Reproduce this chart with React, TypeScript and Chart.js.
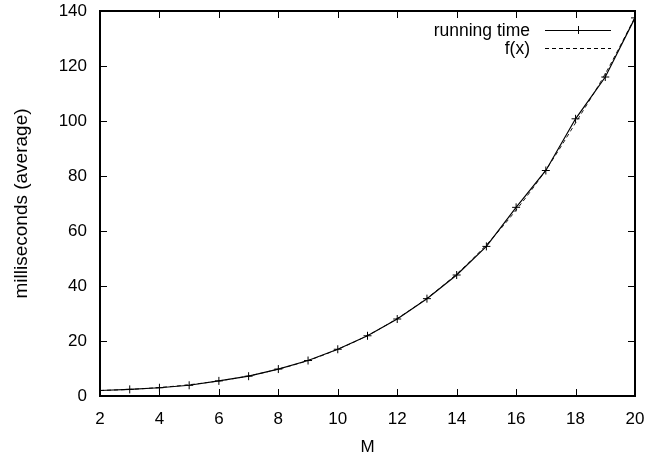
import React, { useEffect, useRef } from "react";
import { Chart, registerables } from "chart.js";

Chart.register(...registerables);

const M_VALUES = [2, 3, 4, 5, 6, 7, 8, 9, 10, 11, 12, 13, 14, 15, 16, 17, 18, 19, 20];
const RUNNING_TIME = [2.0, 2.4, 3.0, 3.9, 5.5, 7.2, 9.8, 12.9, 17.0, 21.9, 28.0, 35.4, 44.0, 54.4, 68.6, 82.0, 100.8, 116.0, 137.5];
const FX = [2.0, 2.4, 3.1, 4.1, 5.5, 7.3, 9.8, 12.9, 17.0, 22.0, 28.2, 35.6, 44.4, 55.0, 67.6, 82.2, 99.3, 117.2, 137.7];
const X_TICKS = [2, 4, 6, 8, 10, 12, 14, 16, 18, 20];
const Y_TICKS = [0, 20, 40, 60, 80, 100, 120, 140];
const SERIES_LABELS = ["running time", "f(x)"];
const X_TITLE = "M";
const Y_TITLE = "milliseconds (average)";

const FONT = "Liberation Sans, Arial, Helvetica, sans-serif";
const FONT_SIZE = 17;
const LEGEND_SIZE = 17.5;
const YTITLE_SIZE = 19;
const TICK_LEN = 7;

const framePlugin = {
  id: "gnuframe",
  beforeDatasetsDraw(chart: any) {
    const { ctx, chartArea, scales } = chart;
    const { left, right, top, bottom } = chartArea;
    const xs = scales.x;
    const ys = scales.y;
    ctx.save();
    ctx.strokeStyle = "#000";
    ctx.lineWidth = 1;
    ctx.beginPath();
    X_TICKS.forEach((v) => {
      const px = Math.round(xs.getPixelForValue(v)) + 0.5;
      ctx.moveTo(px, bottom);
      ctx.lineTo(px, bottom - TICK_LEN);
      ctx.moveTo(px, top);
      ctx.lineTo(px, top + TICK_LEN);
    });
    Y_TICKS.forEach((v) => {
      const py = Math.round(ys.getPixelForValue(v)) + 0.5;
      ctx.moveTo(left, py);
      ctx.lineTo(left + TICK_LEN, py);
      ctx.moveTo(right, py);
      ctx.lineTo(right - TICK_LEN, py);
    });
    ctx.stroke();
    ctx.lineWidth = 2;
    ctx.strokeRect(Math.round(left), Math.round(top), Math.round(right - left), Math.round(bottom - top));
    ctx.restore();
  },
  afterDraw(chart: any) {
    const { ctx } = chart;
    ctx.save();
    ctx.font = `${LEGEND_SIZE}px ${FONT}`;
    ctx.fillStyle = "#000";
    ctx.textAlign = "right";
    ctx.textBaseline = "middle";
    const textRight = 530;
    const sx1 = 545;
    const sx2 = 611;
    const rows = [30, 48];
    ctx.fillText(SERIES_LABELS[0], textRight, rows[0] + 1);
    ctx.strokeStyle = "#000";
    ctx.lineWidth = 1;
    ctx.beginPath();
    ctx.moveTo(sx1, rows[0] + 0.5);
    ctx.lineTo(sx2, rows[0] + 0.5);
    const cx = Math.round((sx1 + sx2) / 2);
    ctx.moveTo(cx - 4, rows[0] + 0.5);
    ctx.lineTo(cx + 4, rows[0] + 0.5);
    ctx.moveTo(cx + 0.5, rows[0] - 4);
    ctx.lineTo(cx + 0.5, rows[0] + 4);
    ctx.stroke();
    ctx.fillText(SERIES_LABELS[1], textRight, rows[1] + 1);
    ctx.setLineDash([4, 3]);
    ctx.beginPath();
    ctx.moveTo(sx1, rows[1] + 0.5);
    ctx.lineTo(sx2, rows[1] + 0.5);
    ctx.stroke();
    ctx.restore();
  },
};

export default function App() {
  const ref = useRef<HTMLCanvasElement | null>(null);
  useEffect(() => {
    document.body.style.margin = "0";
    const canvas = ref.current!;
    const chart = new Chart(canvas, {
      type: "line",
      data: {
        datasets: [
          {
            label: SERIES_LABELS[0],
            data: M_VALUES.map((m, i) => ({ x: m, y: RUNNING_TIME[i] })),
            borderColor: "#000",
            borderWidth: 1.2,
            pointStyle: "cross",
            pointRadius: 4,
            pointBorderWidth: 1,
            pointBorderColor: "#000",
            pointBackgroundColor: "#000",
            tension: 0,
            fill: false,
          },
          {
            label: SERIES_LABELS[1],
            data: M_VALUES.map((m, i) => ({ x: m, y: FX[i] })),
            borderColor: "#222",
            borderWidth: 1,
            borderDash: [4, 3],
            pointRadius: 0,
            cubicInterpolationMode: "monotone",
            fill: false,
          },
        ],
      },
      options: {
        animation: false,
        responsive: false,
        devicePixelRatio: 1,
        layout: { padding: { left: 0, right: 13, top: 11, bottom: 0 } },
        plugins: { legend: { display: false }, tooltip: { enabled: false } },
        scales: {
          x: {
            type: "linear",
            min: 2,
            max: 20,
            afterBuildTicks: (s: any) => {
              s.ticks = X_TICKS.map((v) => ({ value: v }));
            },
            afterFit: (s: any) => {
              s.height = 64;
              s.paddingLeft = 0;
              s.paddingRight = 0;
            },
            grid: { display: false, drawTicks: false },
            border: { display: false },
            ticks: {
              color: "#000",
              font: { family: FONT, size: FONT_SIZE },
              padding: 13,
              maxRotation: 0,
              autoSkip: false,
            },
            title: {
              display: true,
              text: X_TITLE,
              color: "#000",
              font: { family: FONT, size: FONT_SIZE },
              padding: { top: 6, bottom: 2 },
            },
          },
          y: {
            type: "linear",
            min: 0,
            max: 140,
            afterBuildTicks: (s: any) => {
              s.ticks = Y_TICKS.map((v) => ({ value: v }));
            },
            afterFit: (s: any) => {
              s.width = 100;
              s.paddingTop = 0;
              s.paddingBottom = 0;
            },
            grid: { display: false, drawTicks: false },
            border: { display: false },
            ticks: {
              color: "#000",
              font: { family: FONT, size: FONT_SIZE },
              padding: 13,
              autoSkip: false,
            },
            title: {
              display: true,
              text: Y_TITLE,
              color: "#000",
              font: { family: FONT, size: YTITLE_SIZE },
              padding: { top: 10, bottom: 4 },
            },
          },
        },
      },
      plugins: [framePlugin],
    });
    return () => chart.destroy();
  }, []);
  return <canvas ref={ref} width={648} height={460} style={{ display: "block", width: 648, height: 460 }} />;
}
